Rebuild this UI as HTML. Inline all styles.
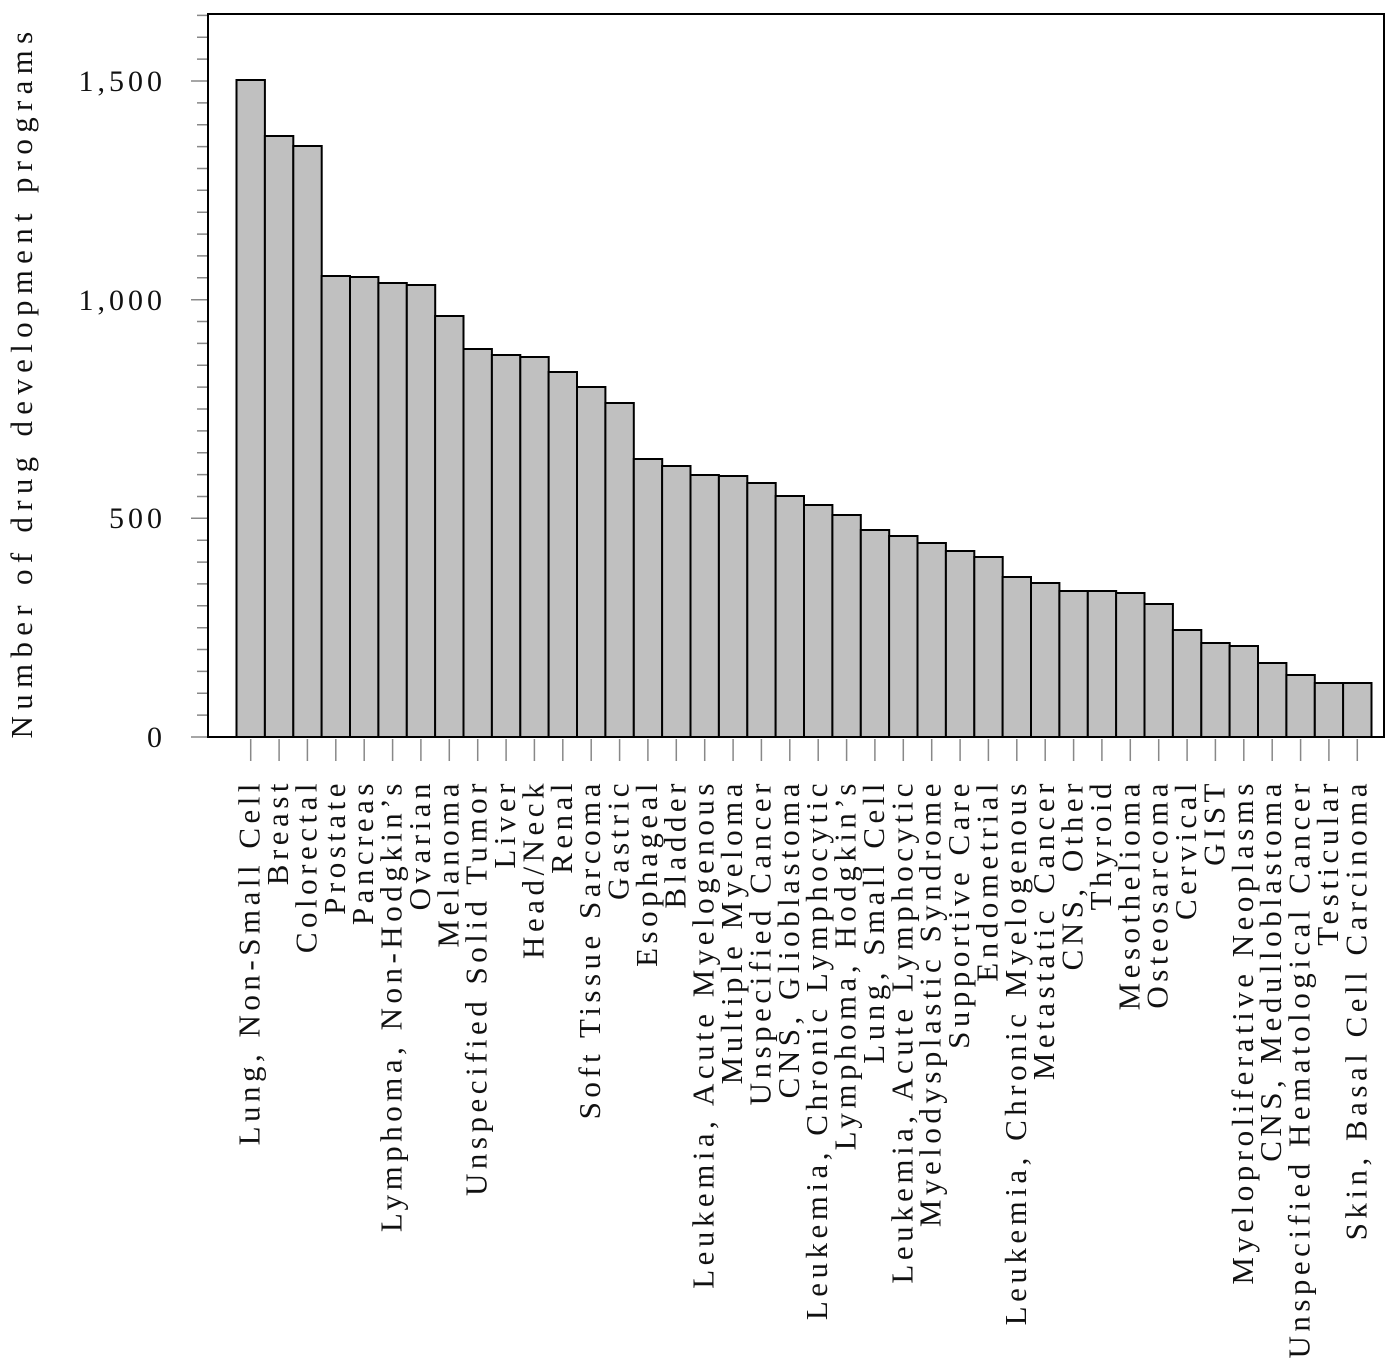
<!DOCTYPE html>
<html><head><meta charset="utf-8"><style>body{margin:0;background:#fff}svg{display:block}</style></head><body>
<svg width="1400" height="1363" xmlns="http://www.w3.org/2000/svg" font-family="Liberation Serif, serif">
<g fill="#c0c0c0" stroke="#000" stroke-width="2">
<rect x="236.5" y="80" width="28.4" height="657"/>
<rect x="264.9" y="136" width="28.4" height="601"/>
<rect x="293.3" y="146" width="28.4" height="591"/>
<rect x="321.6" y="276" width="28.4" height="461"/>
<rect x="350" y="277" width="28.4" height="460"/>
<rect x="378.4" y="283" width="28.4" height="454"/>
<rect x="406.8" y="285" width="28.4" height="452"/>
<rect x="435.1" y="316" width="28.4" height="421"/>
<rect x="463.5" y="349" width="28.4" height="388"/>
<rect x="491.9" y="355" width="28.4" height="382"/>
<rect x="520.3" y="357" width="28.4" height="380"/>
<rect x="548.6" y="372" width="28.4" height="365"/>
<rect x="577" y="387" width="28.4" height="350"/>
<rect x="605.4" y="403" width="28.4" height="334"/>
<rect x="633.8" y="459" width="28.4" height="278"/>
<rect x="662.1" y="466" width="28.4" height="271"/>
<rect x="690.5" y="475" width="28.4" height="262"/>
<rect x="718.9" y="476" width="28.4" height="261"/>
<rect x="747.3" y="483" width="28.4" height="254"/>
<rect x="775.6" y="496" width="28.4" height="241"/>
<rect x="804" y="505" width="28.4" height="232"/>
<rect x="832.4" y="515" width="28.4" height="222"/>
<rect x="860.8" y="530" width="28.4" height="207"/>
<rect x="889.1" y="536" width="28.4" height="201"/>
<rect x="917.5" y="543" width="28.4" height="194"/>
<rect x="945.9" y="551" width="28.4" height="186"/>
<rect x="974.3" y="557" width="28.4" height="180"/>
<rect x="1002.6" y="577" width="28.4" height="160"/>
<rect x="1031" y="583" width="28.4" height="154"/>
<rect x="1059.4" y="591" width="28.4" height="146"/>
<rect x="1087.8" y="591" width="28.4" height="146"/>
<rect x="1116.1" y="593" width="28.4" height="144"/>
<rect x="1144.5" y="604" width="28.4" height="133"/>
<rect x="1172.9" y="630" width="28.4" height="107"/>
<rect x="1201.3" y="643" width="28.4" height="94"/>
<rect x="1229.6" y="646" width="28.4" height="91"/>
<rect x="1258" y="663" width="28.4" height="74"/>
<rect x="1286.4" y="675" width="28.4" height="62"/>
<rect x="1314.8" y="683" width="28.4" height="54"/>
<rect x="1343.1" y="683" width="28.4" height="54"/>
</g>
<path stroke="#888" stroke-width="1.5" fill="none" d="M250.7 739V761M279.1 739V761M307.4 739V761M335.8 739V761M364.2 739V761M392.6 739V761M420.9 739V761M449.3 739V761M477.7 739V761M506.1 739V761M534.4 739V761M562.8 739V761M591.2 739V761M619.6 739V761M647.9 739V761M676.3 739V761M704.7 739V761M733.1 739V761M761.4 739V761M789.8 739V761M818.2 739V761M846.6 739V761M874.9 739V761M903.3 739V761M931.7 739V761M960.1 739V761M988.4 739V761M1016.8 739V761M1045.2 739V761M1073.6 739V761M1101.9 739V761M1130.3 739V761M1158.7 739V761M1187.1 739V761M1215.4 739V761M1243.8 739V761M1272.2 739V761M1300.6 739V761M1328.9 739V761M1357.3 739V761
M191 737H208M197 715.1H208M197 693.3H208M197 671.4H208M197 649.5H208M197 627.7H208M197 605.8H208M197 583.9H208M197 562.1H208M197 540.2H208M191 518.3H208M197 496.5H208M197 474.6H208M197 452.7H208M197 430.9H208M197 409H208M197 387.1H208M197 365.3H208M197 343.4H208M197 321.5H208M191 299.7H208M197 277.8H208M197 255.9H208M197 234.1H208M197 212.2H208M197 190.3H208M197 168.5H208M197 146.6H208M197 124.7H208M197 102.9H208M191 81H208M197 59.1H208M197 37.3H208M197 15.4H208"/>
<rect x="208" y="14" width="1176" height="723" fill="none" stroke="#000" stroke-width="2"/>
<g font-size="30" letter-spacing="4" fill="#111" text-anchor="end">
<text x="166" y="747">0</text>
<text x="166" y="528">500</text>
<text x="166" y="310">1,000</text>
<text x="166" y="91">1,500</text>
</g>
<text transform="translate(32,382) rotate(-90)" text-anchor="middle" font-size="31" letter-spacing="6.3" fill="#111">Number of drug development programs</text>
<g font-size="31" letter-spacing="4.5" fill="#111" text-anchor="end">
<text transform="translate(259.7,779) rotate(-90)">Lung, Non-Small Cell</text>
<text transform="translate(288.1,779) rotate(-90)">Breast</text>
<text transform="translate(316.4,779) rotate(-90)">Colorectal</text>
<text transform="translate(344.8,779) rotate(-90)">Prostate</text>
<text transform="translate(373.2,779) rotate(-90)">Pancreas</text>
<text transform="translate(401.6,779) rotate(-90)">Lymphoma, Non-Hodgkin’s</text>
<text transform="translate(429.9,779) rotate(-90)">Ovarian</text>
<text transform="translate(458.3,779) rotate(-90)">Melanoma</text>
<text transform="translate(486.7,779) rotate(-90)">Unspecified Solid Tumor</text>
<text transform="translate(515.1,779) rotate(-90)">Liver</text>
<text transform="translate(543.4,779) rotate(-90)">Head/Neck</text>
<text transform="translate(571.8,779) rotate(-90)">Renal</text>
<text transform="translate(600.2,779) rotate(-90)">Soft Tissue Sarcoma</text>
<text transform="translate(628.6,779) rotate(-90)">Gastric</text>
<text transform="translate(656.9,779) rotate(-90)">Esophageal</text>
<text transform="translate(685.3,779) rotate(-90)">Bladder</text>
<text transform="translate(713.7,779) rotate(-90)">Leukemia, Acute Myelogenous</text>
<text transform="translate(742.1,779) rotate(-90)">Multiple Myeloma</text>
<text transform="translate(770.4,779) rotate(-90)">Unspecified Cancer</text>
<text transform="translate(798.8,779) rotate(-90)">CNS, Glioblastoma</text>
<text transform="translate(827.2,779) rotate(-90)">Leukemia, Chronic Lymphocytic</text>
<text transform="translate(855.6,779) rotate(-90)">Lymphoma, Hodgkin’s</text>
<text transform="translate(883.9,779) rotate(-90)">Lung, Small Cell</text>
<text transform="translate(912.3,779) rotate(-90)">Leukemia, Acute Lymphocytic</text>
<text transform="translate(940.7,779) rotate(-90)">Myelodysplastic Syndrome</text>
<text transform="translate(969.1,779) rotate(-90)">Supportive Care</text>
<text transform="translate(997.4,779) rotate(-90)">Endometrial</text>
<text transform="translate(1025.8,779) rotate(-90)">Leukemia, Chronic Myelogenous</text>
<text transform="translate(1054.2,779) rotate(-90)">Metastatic Cancer</text>
<text transform="translate(1082.6,779) rotate(-90)">CNS, Other</text>
<text transform="translate(1110.9,779) rotate(-90)">Thyroid</text>
<text transform="translate(1139.3,779) rotate(-90)">Mesothelioma</text>
<text transform="translate(1167.7,779) rotate(-90)">Osteosarcoma</text>
<text transform="translate(1196.1,779) rotate(-90)">Cervical</text>
<text transform="translate(1224.4,779) rotate(-90)">GIST</text>
<text transform="translate(1252.8,779) rotate(-90)">Myeloproliferative Neoplasms</text>
<text transform="translate(1281.2,779) rotate(-90)">CNS, Medulloblastoma</text>
<text transform="translate(1309.6,779) rotate(-90)">Unspecified Hematological Cancer</text>
<text transform="translate(1337.9,779) rotate(-90)">Testicular</text>
<text transform="translate(1366.3,779) rotate(-90)">Skin, Basal Cell Carcinoma</text>
</g>
</svg>
</body></html>
